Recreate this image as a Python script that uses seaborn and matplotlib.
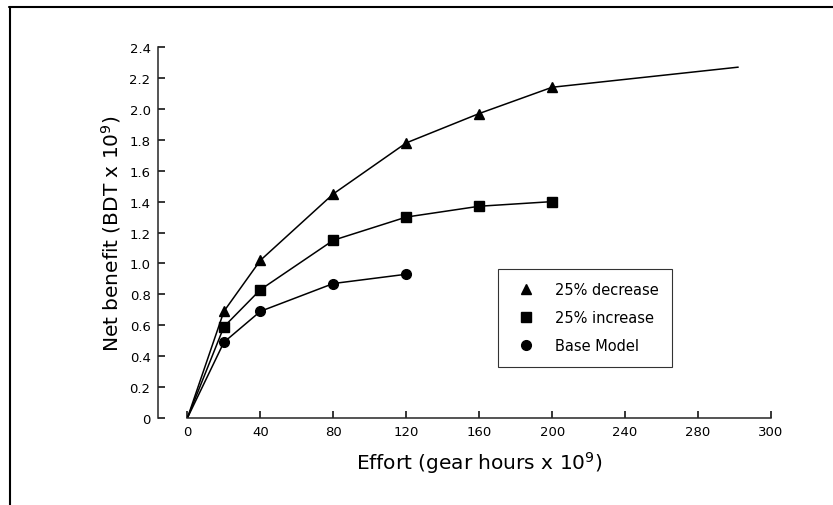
import pandas as pd
import matplotlib
matplotlib.use("Agg")
import matplotlib.pyplot as plt
from matplotlib.lines import Line2D
import seaborn as sns

sns.set_theme(style="ticks")
plt.rcParams['font.family'] = ['DejaVu Sans']
plt.rcParams['text.color'] = 'black'
plt.rcParams['axes.labelcolor'] = 'black'

# Valors llegits de la figura
effort_dec = [0, 20, 40, 80, 120, 160, 200, 302]
benefit_dec = [0, 0.69, 1.02, 1.45, 1.78, 1.97, 2.14, 2.27]
effort_inc = [0, 20, 40, 80, 120, 160, 200]
benefit_inc = [0, 0.59, 0.83, 1.15, 1.30, 1.37, 1.40]
effort_base = [0, 20, 40, 80, 120]
benefit_base = [0, 0.49, 0.69, 0.87, 0.93]

series_names = ["25% decrease", "25% increase", "Base Model"]
series_markers = ["^", "s", "o"]
x_ticks = [0, 40, 80, 120, 160, 200, 240, 280, 320]
x_tick_labels = ["0", "40", "80", "120", "160", "200", "240", "280", "300"]
y_ticks = [0, 0.2, 0.4, 0.6, 0.8, 1.0, 1.2, 1.4, 1.6, 1.8, 2.0, 2.2, 2.4]
y_tick_labels = ["0", "0.2", "0.4", "0.6", "0.8", "1.0", "1.2", "1.4", "1.6", "1.8", "2.0", "2.2", "2.4"]

fig = plt.figure(figsize=(8.33, 5.06), dpi=100)
ax = fig.add_axes([0.225, 0.172, 0.7006, 0.733])

dades = [
    (effort_dec, benefit_dec, series_markers[0]),
    (effort_inc, benefit_inc, series_markers[1]),
    (effort_base, benefit_base, series_markers[2]),
]
for xs, ys, mk in dades:
    df = pd.DataFrame({"x": xs, "y": ys})
    sns.lineplot(data=df, x="x", y="y", ax=ax, color="black", linewidth=1.1, sort=False)
    # marcadors només als punts interiors (no a l'origen ni al final de la corba)
    last = len(xs) - 1 if xs[-1] > 200 else len(xs)
    pts = df.iloc[1:last]
    ax.plot(pts["x"], pts["y"], linestyle="none", marker=mk, color="black",
            markersize=7 if mk != "s" else 6.5)

ax.set_xlim(0, 320)
ax.set_ylim(0, 2.4)
ax.set_xticks(x_ticks)
ax.set_xticklabels(x_tick_labels)
ax.set_yticks(y_ticks)
ax.set_yticklabels(y_tick_labels)
ax.tick_params(axis="both", direction="in", length=5, width=1.1, colors="black",
               labelsize=9.5, pad=5)

ax.spines["top"].set_visible(False)
ax.spines["right"].set_visible(False)
ax.spines["left"].set_position(("outward", 21.5))
ax.spines["left"].set_linewidth(1.1)
ax.spines["bottom"].set_linewidth(1.1)

ax.set_xlabel(r"Effort (gear hours x $\mathregular{10^9}$)", fontsize=14.5, labelpad=8)
ax.set_ylabel(r"Net benefit (BDT x $\mathregular{10^9}$)", fontsize=14.5, labelpad=5)

handles = [Line2D([], [], linestyle="none", marker=m, color="black", markersize=7)
           for m in series_markers]
leg = ax.legend(handles, series_names, loc="upper left", bbox_to_anchor=(0.52, 0.421),
                frameon=True, fancybox=False, edgecolor="black", fontsize=10.5,
                handletextpad=1.0, labelspacing=0.9, borderpad=0.9)
leg.get_frame().set_linewidth(0.8)

# marc de la figura escanejada
fig.add_artist(Line2D([0.011, 1.0], [0.984, 0.984], color="black", linewidth=1.5,
                      transform=fig.transFigure))
fig.add_artist(Line2D([0.012, 0.012], [0.0, 0.984], color="black", linewidth=1.5,
                      transform=fig.transFigure))

fig.savefig("out.png", dpi=100)
plt.close(fig)
